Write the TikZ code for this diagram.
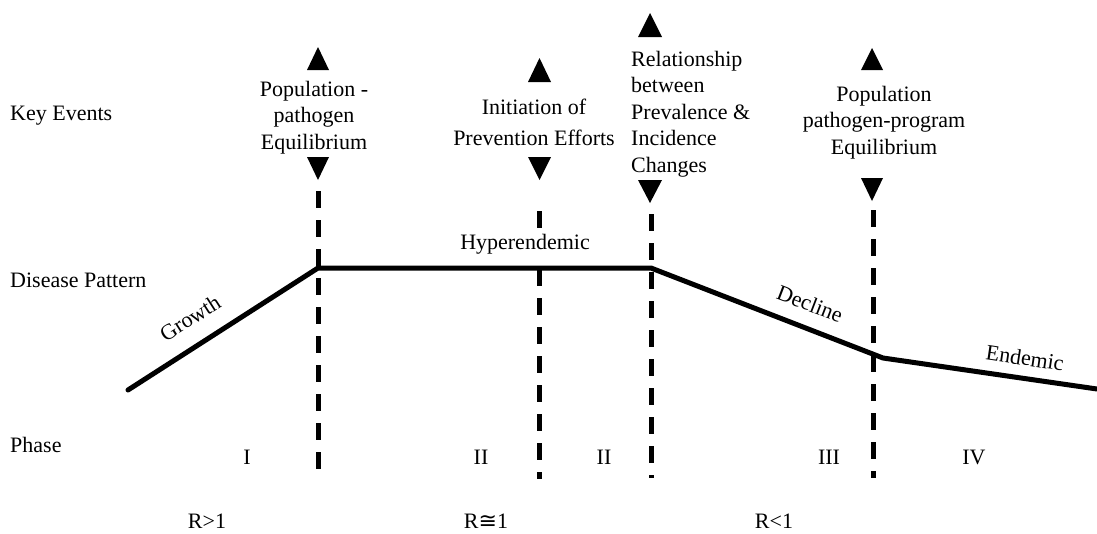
\documentclass[tikz,border=0pt]{standalone}
\usepackage{fontspec}
\setmainfont{Liberation Serif}
\newfontfamily\symfnt{DejaVu Sans}
\begin{document}
\begin{tikzpicture}[x=1pt,y=-1pt,
  font=\fontsize{22}{26.5}\selectfont,
  lbl/.style={inner sep=0pt},
  ev/.style={inner sep=0pt, align=center, anchor=north},
  vline/.style={line width=5pt, dash pattern=on 17pt off 12pt},
  curve/.style={line width=5pt, line join=miter}]
\useasboundingbox (0,0) rectangle (1097,533);

% row labels
\node[lbl, anchor=base west] (ke) at (10,120) {Key Events};
\node[lbl, anchor=base west] (dp) at (10,287) {Disease Pattern};
\node[lbl, anchor=base west] (ph) at (10,452) {Phase};

% key events
\node[ev] (e1) at (314,81) {Population -\\pathogen\\Equilibrium};
\node[ev, font=\fontsize{22}{31}\selectfont] (e2) at (534,99) {Initiation of\\Prevention Efforts};
\node[ev, anchor=north west, align=left] (e3) at (631,51) {Relationship\\between\\Prevalence \&\\Incidence\\Changes};
\node[ev] (e4) at (884,86) {Population\\pathogen-program\\Equilibrium};

% triangles
\fill (307,70) -- (318,47) -- (329,70) -- cycle;
\fill (307,157) -- (318,180) -- (329,157) -- cycle;
\fill (528,82) -- (539.5,58) -- (551,82) -- cycle;
\fill (528,157) -- (539.5,180) -- (551,157) -- cycle;
\fill (638,37) -- (650,13) -- (662,37) -- cycle;
\fill (638,180) -- (650,203) -- (662,180) -- cycle;
\fill (861,70) -- (872,48) -- (883,70) -- cycle;
\fill (861,178) -- (872,201) -- (883,178) -- cycle;

% dashed phase borders
\coordinate (v1a) at (318,191); \coordinate (v1b) at (318,470);
\coordinate (v2a) at (539,211); \coordinate (v2b) at (539,479);
\coordinate (v3a) at (651,214); \coordinate (v3b) at (651,478);
\coordinate (v4a) at (873,210); \coordinate (v4b) at (873,478);
\draw[vline] (v1a) -- (v1b);
\draw[vline] (v2a) -- (v2b);
\draw[vline] (v3a) -- (v3b);
\draw[vline] (v4a) -- (v4b);

% disease pattern curve
\coordinate (c0) at (128,390);
\coordinate (c1) at (318,268);
\coordinate (c2) at (651,268);
\coordinate (c3) at (883,358);
\coordinate (c4) at (1097,389);
\draw[curve, line cap=round] (c0) -- (c1) -- (c2) -- (c3) -- (c4);

\node[lbl, rotate=32.7] (gr) at (190,318) {Growth};
\node[lbl, fill=white, inner xsep=1pt, inner ysep=5pt] (hy) at (525,244) {Hyperendemic};
\node[lbl, rotate=-21] (de) at (810,304) {Decline};
\node[lbl, rotate=-8.5] (en) at (1025,358) {Endemic};

% phases
\node[lbl, anchor=base] (p1) at (247,464) {I};
\node[lbl, anchor=base] (p2) at (481,464) {II};
\node[lbl, anchor=base] (p3) at (604,464) {II};
\node[lbl, anchor=base] (p4) at (829,464) {III};
\node[lbl, anchor=base] (p5) at (974,464) {IV};

% R values
\node[lbl, anchor=base] (r1) at (207,528) {R>1};
\node[lbl, anchor=base] (r2) at (486,528) {R{\symfnt ≅}1};
\node[lbl, anchor=base] (r3) at (774,528) {R<1};
\end{tikzpicture}
\end{document}
